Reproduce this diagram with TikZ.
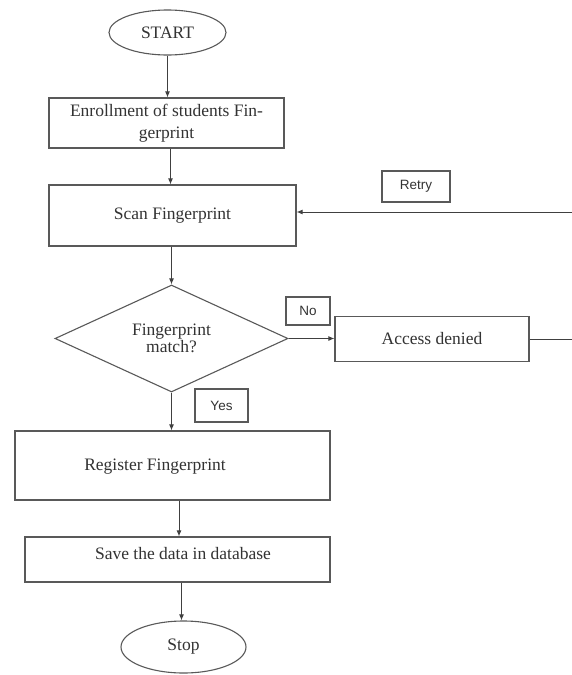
\documentclass[tikz,border=0pt]{standalone}
\usepackage{fontspec}
\setmainfont{Liberation Serif}
\newfontfamily\lblfont{Liberation Sans}
\usetikzlibrary{shapes.geometric,arrows.meta}
\begin{document}
\begin{tikzpicture}[x=1pt,y=-1pt,
  every node/.style={text=black!80},
  ln/.style={draw=black!65,line width=1.1pt},
  proc/.style={ln,rectangle,inner sep=0pt,font=\fontsize{17.5}{22}\selectfont,align=center},
  term/.style={ln,ellipse,inner sep=0pt,font=\fontsize{17.5}{20}\selectfont},
  decis/.style={ln,diamond,inner sep=0pt,aspect=2.18,font=\fontsize{17.5}{17.5}\selectfont,align=center},
  lbl/.style={ln,rectangle,inner sep=0pt,font=\lblfont\fontsize{13.5}{15}\selectfont},
  arr/.style={draw=black!75,line width=1pt,-{Latex[length=6pt,width=5pt]}},
  con/.style={draw=black!75,line width=1pt}]
\useasboundingbox[fill=white] (0,0) rectangle (571,675);

\node[term,minimum width=117pt,minimum height=45pt] (start) at (167.5,32.5) {START};
\node[proc,minimum width=235pt,minimum height=50pt] (enroll) at (166.5,123) {Enrollment of students Fin-\\gerprint};
\node[proc,minimum width=247pt,minimum height=61pt] (scan) at (172.5,215.5) {Scan Fingerprint};
\node[lbl,minimum width=68pt,minimum height=31pt] (retry) at (416,186.5) {Retry};
\node[decis,minimum width=233pt,minimum height=107pt] (dia) at (171.5,338.5) {Fingerprint\\match?};
\node[lbl,minimum width=44pt,minimum height=28pt] (no) at (308,311) {No};
\node[proc,minimum width=194pt,minimum height=45pt] (deny) at (432,339) {Access denied};
\node[lbl,minimum width=53pt,minimum height=33pt] (yes) at (221.5,405.5) {Yes};
\node[proc,minimum width=315pt,minimum height=69pt] (reg) at (172.5,465.5) {};
\node[font=\fontsize{17.5}{20}\selectfont] (regtxt) at (155,467) {Register Fingerprint};
\node[proc,minimum width=305pt,minimum height=45pt] (save) at (177.5,559.5) {};
\node[font=\fontsize{17.5}{20}\selectfont] (savetxt) at (183,554) {Save the data in database};
\node[term,minimum width=125pt,minimum height=52pt] (stop) at (183.5,647) {Stop};

\coordinate (r1) at (580,339);
\coordinate (r2) at (580,212);

\draw[arr] (start.south) -- (start.south |- enroll.north);
\draw[arr] ([xshift=4pt]enroll.south) -- ([xshift=4pt]enroll.south |- scan.north);
\draw[arr] (scan.south -| dia.north) -- (dia.north);
\draw[arr] (dia.east) -- (dia.east -| deny.west);
\draw[con] (deny.east) -- (r1) -- (r2);
\draw[arr] (r2) -- (r2 -| scan.east);
\draw[arr] (dia.south) -- (dia.south |- reg.north);
\draw[arr] ([xshift=6.5pt]reg.south) -- ([xshift=6.5pt]reg.south |- save.north);
\draw[arr] ([xshift=4pt]save.south) -- ([xshift=4pt]save.south |- stop.north);
\end{tikzpicture}
\end{document}
